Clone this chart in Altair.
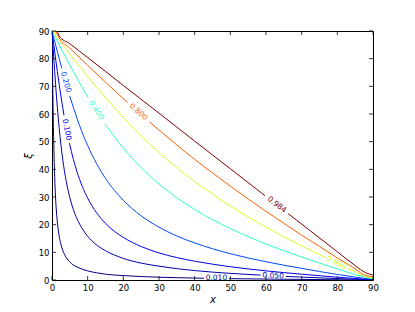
import altair as alt
import pandas as pd

# contour levels, label texts and colours (jet colormap)
levels = ["0.010", "0.050", "0.100", "0.200", "0.400", "0.600", "0.800", "0.984"]
colors = ["#000080", "#0000af", "#0000eb", "#0047ff", "#29ffcd", "#d2ff24", "#ff5d00", "#800000"]

# each contour: x values, xi values; the gap index marks the label break
c0010_x = [0, 0.05, 0.1, 0.2, 0.3, 0.5, 0.75, 1, 1.5, 2, 2.5, 3, 4, 5, 6, 7, 10, 12.5, 15, 20, 30, 40, 42.6, 49.6, 60, 70, 80, 90]
c0010_y = [90, 85.0, 80.1, 70.8, 62.4, 48.9, 37.4, 29.8, 20.9, 16.0, 12.9, 10.8, 8.1, 6.5, 5.4, 4.7, 3.3, 2.6, 2.1, 1.6, 1.0, 0.7, 0.62, 0.49, 0.33, 0.21, 0.10, 0.0]
c0010_gap = 23

c0050_x = [0, 0.1, 0.2, 0.5, 1, 1.5, 2, 3, 4, 5, 6, 7, 8.5, 10, 12, 15, 20, 25, 30, 35, 40, 50, 58.5, 65.6, 70, 80, 90]
c0050_y = [90, 88.0, 86.0, 80.1, 70.8, 62.4, 55.1, 43.7, 35.6, 29.8, 25.4, 22.2, 18.5, 15.8, 13.2, 10.6, 7.8, 6.1, 5.0, 4.1, 3.4, 2.4, 1.76, 1.29, 1.04, 0.51, 0.05]
c0050_gap = 23

c0100_x = [0, 0.25, 0.5, 1, 2, 3, 3.37, 4.88, 6, 7, 8.5, 10, 12.5, 15, 17.5, 20, 25, 30, 35, 40, 50, 60, 70, 80, 90]
c0100_y = [90, 87.5, 85.0, 80.1, 70.8, 62.4, 59.5, 49.5, 43.6, 39.2, 33.8, 29.6, 24.3, 20.5, 17.6, 15.4, 12.1, 9.8, 8.1, 6.8, 4.8, 3.3, 2.1, 1.0, 0.1]
c0100_gap = 7

c0200_x = [0, 0.25, 0.5, 1, 2, 2.75, 4.97, 7, 8.5, 10, 12.5, 15, 17.5, 20, 25, 30, 35, 40, 45, 50, 60, 70, 80, 90]
c0200_y = [90, 88.7, 87.5, 85.0, 80.1, 76.5, 66.5, 58.5, 53.2, 48.6, 42.1, 36.7, 32.4, 28.8, 23.2, 19.1, 15.9, 13.4, 11.3, 9.5, 6.6, 4.2, 2.0, 0.2]
c0200_gap = 6

c0400_x = [0.3, 0.5, 1, 2, 3, 5, 7, 10.1, 14.8, 17.5, 20, 25, 30, 35, 40, 45, 50, 55, 60, 65, 70, 75, 80, 85, 90]
c0400_y = [90, 88.8, 87.5, 85.0, 82.5, 77.7, 72.9, 66.0, 56.5, 51.8, 47.7, 40.6, 34.7, 29.7, 25.5, 21.8, 18.6, 15.7, 13.0, 10.6, 8.3, 6.1, 4.0, 2.0, 0.4]
c0400_gap = 8

c0600_x = [0.6, 1, 2, 3, 5, 7, 10, 15, 20, 25, 30, 35, 40, 45, 50, 55, 60, 65, 70, 76.8, 82.8, 85, 88, 90]
c0600_y = [90, 88.3, 86.7, 85.0, 81.7, 78.4, 73.6, 65.9, 58.8, 52.1, 46.1, 40.6, 35.6, 31.0, 26.7, 22.8, 19.1, 15.6, 12.3, 8.0, 4.3, 3.0, 1.2, 0.8]
c0600_gap = 20

c0800_x = [1.0, 2, 5, 10, 15, 21.2, 27.3, 30, 35, 40, 45, 50, 55, 60, 65, 70, 75, 80, 85, 88, 90]
c0800_y = [90, 87.5, 83.8, 77.6, 71.5, 64.1, 57.2, 54.2, 48.8, 43.6, 38.7, 33.9, 29.3, 24.8, 20.5, 16.2, 12.1, 8.0, 4.0, 1.6, 1.2]
c0800_gap = 6

c0984_x = [1.5, 2, 5, 10, 15, 20, 30, 40, 50, 59.7, 66.2, 70, 80, 85, 88, 90]
c0984_y = [90, 88.2, 85.4, 80.4, 75.4, 70.3, 60.3, 50.2, 40.2, 30.5, 24.0, 20.2, 10.2, 5.2, 2.6, 1.8]
c0984_gap = 10

# inline label positions and rotations
label_x = [46.1, 62.0, 4.10, 3.83, 12.4, 79.8, 24.2, 63.0]
label_y = [0.55, 1.5, 54.3, 71.5, 61.3, 6.2, 60.7, 27.2]
label_angle = [0, 3, 79, 74, 57.5, 25.6, 41.3, 37.8]

ticks = [0, 10, 20, 30, 40, 50, 60, 70, 80, 90]

curves = [
    (c0010_x, c0010_y, c0010_gap), (c0050_x, c0050_y, c0050_gap),
    (c0100_x, c0100_y, c0100_gap), (c0200_x, c0200_y, c0200_gap),
    (c0400_x, c0400_y, c0400_gap), (c0600_x, c0600_y, c0600_gap),
    (c0800_x, c0800_y, c0800_gap), (c0984_x, c0984_y, c0984_gap),
]

rows = []
for lev, (xs, ys, gap) in zip(levels, curves):
    for i, (xv, yv) in enumerate(zip(xs, ys)):
        seg = 0 if i < gap else 1
        rows.append({"level": lev, "key": f"{lev}-{seg}", "i": i, "x": xv, "xi": yv})
lines_df = pd.DataFrame(rows)

labels_df = pd.DataFrame({"level": levels, "x": label_x, "xi": label_y, "angle": label_angle})
ticks_df = pd.DataFrame({"x": ticks, "xi": ticks})

W, H = 321, 249
FONT = "DejaVu Sans"

xscale = alt.Scale(domain=[0, 90], nice=False, zero=False)
yscale = alt.Scale(domain=[0, 90], nice=False, zero=False)
cscale = alt.Scale(domain=levels, range=colors)

ax_x = alt.Axis(values=ticks, title="x", titleFontStyle="italic", titleFont=FONT,
                titleFontSize=10, titleFontWeight="normal", titlePadding=3,
                labelFont=FONT, labelFontSize=8.5, labelPadding=3, labelColor="#000",
                labelOverlap=False, ticks=False, domain=False, grid=False, labelFlush=False)
ax_y = alt.Axis(values=ticks, title="ξ", titleFontStyle="italic", titleFont=FONT,
                titleFontSize=10, titleFontWeight="normal", titlePadding=5,
                labelFont=FONT, labelFontSize=8.5, labelPadding=3, labelColor="#000",
                labelOverlap=False, ticks=False, domain=False, grid=False, labelFlush=False)

X = alt.X("x:Q", scale=xscale, axis=ax_x)
Y = alt.Y("xi:Q", scale=yscale, axis=ax_y)

lines = alt.Chart(lines_df).mark_line(strokeWidth=1, clip=True, interpolate="monotone").encode(
    x=X, y=Y,
    color=alt.Color("level:N", scale=cscale, legend=None),
    detail="key:N",
    order="i:Q",
)

texts = alt.Chart(labels_df).mark_text(font=FONT, fontSize=7.5, align="center", baseline="middle").encode(
    x=X, y=Y,
    text="level:N",
    color=alt.Color("level:N", scale=cscale, legend=None),
    angle=alt.Angle("angle:Q", scale=None),
)

tick_style = dict(color="#000", strokeWidth=0.8)
tb = alt.Chart(ticks_df).mark_rule(**tick_style).encode(x=X, y=alt.value(H), y2=alt.value(H - 4))
tt = alt.Chart(ticks_df).mark_rule(**tick_style).encode(x=X, y=alt.value(0), y2=alt.value(4))
tl = alt.Chart(ticks_df).mark_rule(**tick_style).encode(y=Y, x=alt.value(0), x2=alt.value(4))
tr = alt.Chart(ticks_df).mark_rule(**tick_style).encode(y=Y, x=alt.value(W), x2=alt.value(W - 4))

chart = alt.layer(lines, texts, tb, tt, tl, tr).properties(
    width=W, height=H,
    padding={"left": 44, "top": 23, "right": 30, "bottom": 24},
    autosize=alt.AutoSizeParams(type="none"),
    background="white",
).configure_view(stroke="#000", strokeWidth=1).configure_axis(labelOverlap=False)

chart.save("out.html", embed_options={"renderer": "svg", "actions": False})
